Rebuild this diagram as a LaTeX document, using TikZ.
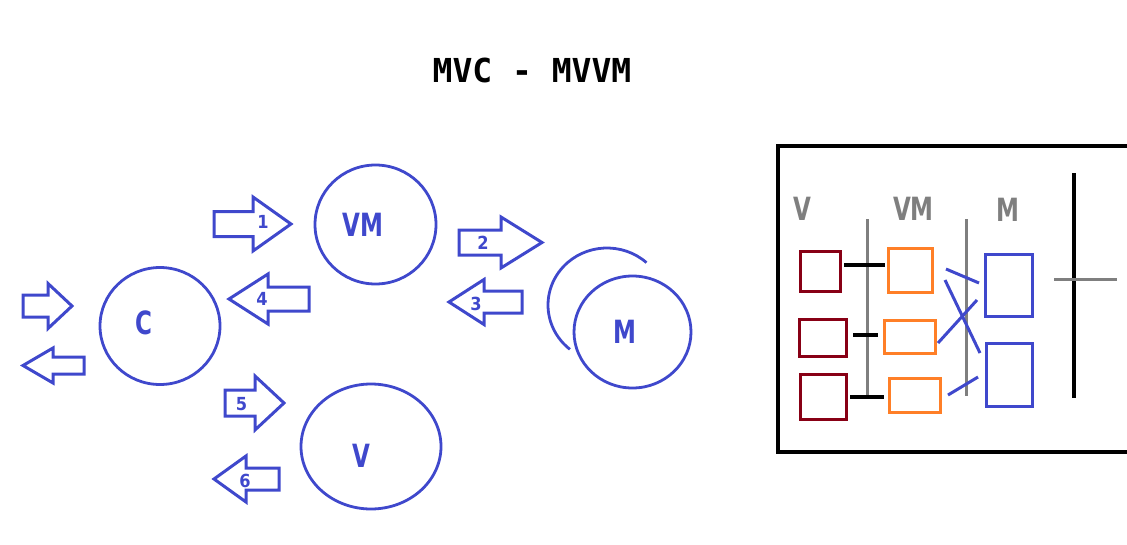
\documentclass[tikz,border=0pt]{standalone}
\usepackage{fontspec}
\usetikzlibrary{shapes.geometric}
\newfontfamily\titlefont{DejaVu Sans Mono Bold}
\newfontfamily\labelfont{DejaVu Sans Bold}[FakeStretch=0.72]
\newfontfamily\numberfont{DejaVu Sans Bold}[FakeStretch=0.9]
\definecolor{paintblue}{HTML}{3F48CC}
\definecolor{paintred}{HTML}{880015}
\definecolor{paintorange}{HTML}{FF7F27}
\definecolor{paintgray}{HTML}{7F7F7F}
\newcommand{\blockarrow}[6]{\draw[bigarrow] (#1,#4-#5) -- (#2,#4-#5) -- (#2,#4-#6) -- (#3,#4) -- (#2,#4+#6) -- (#2,#4+#5) -- (#1,#4+#5) -- cycle;}

\begin{document}
\begin{tikzpicture}[x=1pt, y=-1pt,
      every node/.append style={inner sep=0pt, outer sep=0pt},
      bigarrow/.style={draw=paintblue, line width=3pt, line join=miter},
      part/.style={ellipse, draw=paintblue, line width=2.8pt},
      partname/.style={text=paintblue, font=\fontsize{32}{32}\labelfont},
      step number/.style={text=paintblue, font=\fontsize{18}{18}\numberfont},
      layer/.style={rectangle, line width=3pt}]
    \tikzstyle{head} = [text=paintgray, font=\fontsize{32}{32}\labelfont]
    \tikzstyle{vlink} = [line width=3.2pt, black]
    \tikzstyle{mlink} = [line width=3pt, paintblue]
    \useasboundingbox (0,0) rectangle (1127,544);
    \node (title) at (532,70) {\fontsize{33}{33}\titlefont MVC - MVVM};

    \node [part, minimum width=120, minimum height=117] (C) at (160,326) {};
    \node [part, minimum width=121, minimum height=119] (VM) at (375.5,224.5) {};
    \node [part, minimum width=140, minimum height=125] (V) at (371,446.5) {};
    \node [part, minimum width=117, minimum height=112] (M) at (632.5,332) {};
    \coordinate (Mback) at (607,305);
    \draw [draw=paintblue, line width=2.8pt] (Mback) ++(-48:59 and 57)
      arc [start angle=-48, end angle=-231, x radius=59, y radius=57];
    \node [partname] at (144,322.5) {C};
    \node [partname] at (363,224.5) {VM};
    \node [partname] at (361.5,455.5) {V};
    \node [partname] at (625,331.5) {M};

    \blockarrow{214}{253}{291}{224}{12.5}{27}
    \blockarrow{309}{268}{229}{299}{12}{25}
    \blockarrow{23}{48}{72}{306}{11}{22.5}
    \blockarrow{84}{53}{23}{365.5}{8.5}{17.5}
    \blockarrow{225}{255}{284}{403}{13}{27}
    \blockarrow{279}{246}{214}{479}{11}{23}
    \blockarrow{459}{501}{542}{242.5}{12.5}{25.5}
    \blockarrow{522}{484}{449}{302}{11}{22.5}
    \node [step number] (n1) at (263,221.5) {1};
    \node [step number] (n2) at (483,243) {2};
    \node [step number] (n3) at (476,303.5) {3};
    \node [step number] (n4) at (262,299) {4};
    \node [step number] (n5) at (241.5,404) {5};
    \node [step number] (n6) at (245,481) {6};

    \draw [line width=3.5pt] (1127,146) -- (778,146) -- (778,452) -- (1127,452);
    \node [head] at (802.5,208.5) {V};
    \node [head] at (913.5,208.5) {VM};
    \node [head] at (1007.5,210) {M};

    \node [layer, draw=paintred, minimum width=40, minimum height=40] (v1) at (820,271) {};
    \node [layer, draw=paintred, minimum width=47, minimum height=37] (v2) at (822.5,337.5) {};
    \node [layer, draw=paintred, minimum width=46, minimum height=45] (v3) at (823,396.5) {};
    \node [layer, draw=paintorange, minimum width=44, minimum height=44] (vm1) at (910,270) {};
    \node [layer, draw=paintorange, minimum width=51, minimum height=33] (vm2) at (909.5,336.5) {};
    \node [layer, draw=paintorange, minimum width=51, minimum height=34] (vm3) at (914.5,395) {};
    \node [layer, draw=paintblue, minimum width=47, minimum height=62] (m1) at (1008.5,285) {};
    \node [layer, draw=paintblue, minimum width=46, minimum height=63] (m2) at (1009,374.5) {};

    \draw [line width=3pt, paintgray] (867,219) -- (867,395);
    \draw [line width=3pt, paintgray] (966,219) -- (966,396);
    \draw [line width=3.2pt] (1074,173) -- (1074,398);
    \draw [line width=3pt, paintgray] (1054,279) -- (1117,279);

    \draw [vlink, shorten <=4pt, shorten >=3pt] ([yshift=6]v1.east) -- ([yshift=5]vm1.west);
    \draw [vlink, shorten <=7pt, shorten >=6pt] ([yshift=2.5]v2.east) -- ([yshift=1.5]vm2.west);
    \draw [vlink, shorten <=4pt, shorten >=5pt] ([yshift=-0.5]v3.east) -- ([yshift=-2]vm3.west);

    \coordinate (a1) at (946,269);
    \coordinate (a2) at (979,283);
    \coordinate (b1) at (945,280);
    \coordinate (b2) at (980,353);
    \coordinate (c1) at (938,343);
    \coordinate (c2) at (977,300);
    \coordinate (d1) at (948,395);
    \coordinate (d2) at (978,377);
    \draw [mlink] (a1) -- (a2);
    \draw [mlink] (b1) -- (b2);
    \draw [mlink] (c1) -- (c2);
    \draw [mlink] (d1) -- (d2);
\end{tikzpicture}
\end{document}
